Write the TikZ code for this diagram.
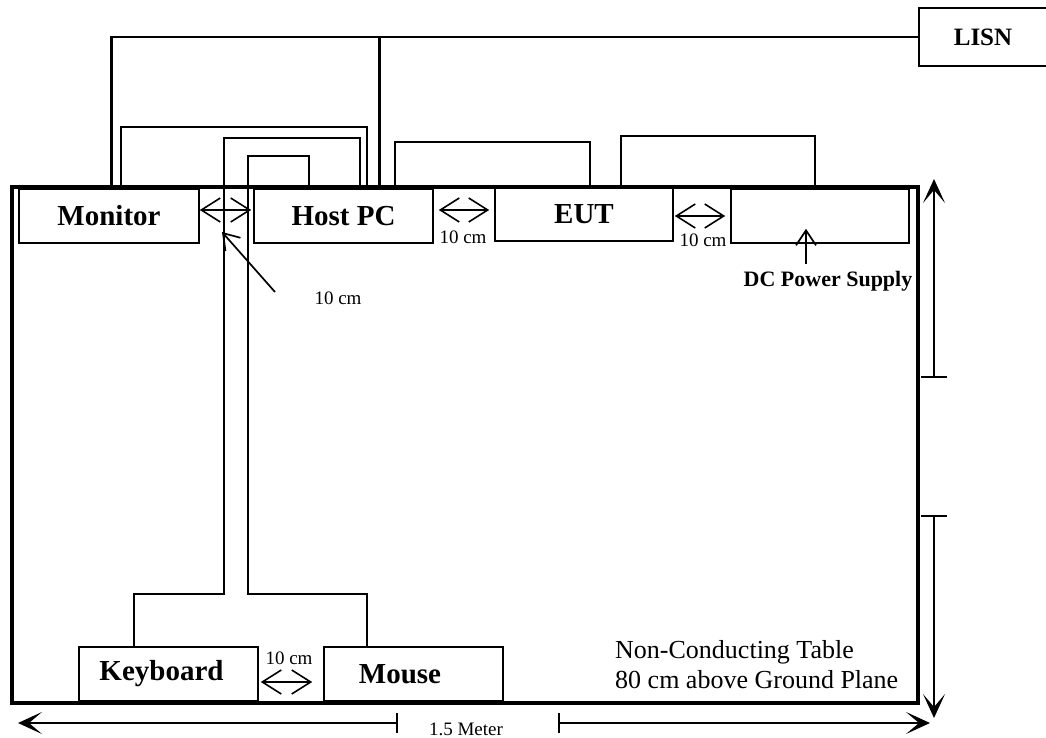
\documentclass[tikz,border=0pt]{standalone}
\usepackage{fontspec}
\setmainfont{Liberation Serif}
\usetikzlibrary{arrows.meta,calc}
\begin{document}
\begin{tikzpicture}[x=1pt,y=-1pt,
  box/.style={draw,line width=1.6pt,rectangle,minimum width=#1,minimum height=54pt,inner sep=0pt,font=\fontsize{29}{34}\selectfont\bfseries},
  cable/.style={line width=1.5pt},
  power/.style={line width=2.6pt},
  gap/.style={line width=1.3pt,{Straight Barb[length=19pt,width=24pt,line width=1.6pt]}-{Straight Barb[length=19pt,width=24pt,line width=1.6pt]}},
  ptr/.style={line width=1.7pt,-{Straight Barb[length=15pt,width=20pt,line width=1.7pt]}},
  dim/.style={line width=1.4pt,-{Stealth[length=24pt,width=22pt,inset=13pt]}},
  tick/.style={line width=1.6pt},
  lbl/.style={font=\fontsize{19}{22}\selectfont,inner sep=0pt},
  note/.style={font=\fontsize{26}{30}\selectfont,inner sep=0pt,anchor=base west},
  blbl/.style={font=\fontsize{22}{26}\selectfont\bfseries,inner sep=0pt}
]
\useasboundingbox (0,0) rectangle (1046,738);
% table
\node[draw,line width=3.2pt,minimum width=906pt,minimum height=516pt,inner sep=0pt] (table) at (465,445) {};
% boxes
\node[box=180pt] (monitor) at (109,216) {Monitor};
\node[box=179pt] (hostpc) at (343.5,216) {Host PC};
\node[box=178pt,minimum height=53pt] (eut) at (584,214.5) {EUT};
\node[box=178pt] (dc) at (820,216) {};
\node[box=140pt,minimum height=58pt,font=\fontsize{25}{30}\selectfont\bfseries] (lisn) at (989,37) {LISN\hspace*{12pt}};
\node[box=179pt] (keyboard) at (168.5,674) {Keyboard\hspace*{14pt}};
\node[box=179pt] (mouse) at (413.5,674) {Mouse\hspace*{27pt}};
% power wires from LISN
\draw[power] (lisn.west) -| ($(monitor.north west)+(93,0)$);
\draw[power] ($(hostpc.north west)+(126,0)$) coordinate (hpp) -- (hpp |- lisn.west);
% cables
\draw[cable] ($(monitor.north west)+(103,0)$) -- ++(0,-61) -| ($(hostpc.north west)+(114,0)$);
\draw[cable] ($(keyboard.north west)+(56,0)$) -- ++(0,-52) -| (224,138) -| ($(hostpc.north west)+(107,0)$);
\draw[cable] ($(mouse.north west)+(44,0)$) -- ++(0,-52) -| (248,156) -| ($(hostpc.north west)+(56,0)$);
\draw[cable] ($(hostpc.north west)+(142,0)$) |- (500,142) -| ($(eut.north west)+(96,0)$);
\draw[cable] ($(eut.north west)+(127,0)$) |- (700,136) -| ($(dc.north west)+(85,0)$);
% spacing arrows
\draw[gap] ($(monitor.east)+(0,-6)$) -- ($(hostpc.west)+(-2,-6)$);
\draw[gap] ($(hostpc.east)+(5,-6)$) -- ($(eut.west)+(-5,-4.5)$);
\node[lbl] (g2) at (463,237) {10 cm};
\draw[gap] ($(eut.east)+(1,1.5)$) -- ($(dc.west)+(-5,0)$);
\node[lbl] (g3) at (703,240) {10 cm};
\draw[gap] ($(keyboard.east)+(2,8)$) -- ($(mouse.west)+(-11,8)$);
\node[lbl] (g4) at (289,658) {10 cm};
% pointer to monitor/host gap
\node[lbl] (g1) at (338,298) {10 cm};
\coordinate (p1) at (275,292);
\coordinate (p1t) at (222,232);
\draw[ptr] (p1) -- (p1t);
% DC power supply label
\node[blbl] (dclabel) at (828,281) {DC Power Supply};
\coordinate (dcp) at (806,264);
\draw[ptr] (dcp) -- ($(dcp |- dc.south)+(0,-15)$);
% right dimension
\coordinate (vt) at (934,179);
\coordinate (vb) at (934,718);
\coordinate (v1) at (934,377);
\coordinate (v2) at (934,516);
\draw[dim] (v1) -- (vt);
\draw[tick] ($(v1)+(-13,0)$) -- ($(v1)+(13,0)$);
\draw[dim] (v2) -- (vb);
\draw[tick] ($(v2)+(-13,0)$) -- ($(v2)+(13,0)$);
% bottom dimension
\coordinate (h1) at (397,723);
\coordinate (h2) at (559,723);
\coordinate (hl) at (18,723);
\coordinate (hr) at (930,723);
\draw[dim] (h1) -- (hl);
\draw[tick] ($(h1)+(0,-10)$) -- ($(h1)+(0,10)$);
\draw[dim] (h2) -- (hr);
\draw[tick] ($(h2)+(0,-10)$) -- ($(h2)+(0,10)$);
\node[lbl] (meter) at (466,729) {1.5 Meter};
% note
\node[note] (n1) at (615,658) {Non-Conducting Table};
\node[note] (n2) at (615,688) {80 cm above Ground Plane};
\end{tikzpicture}
\end{document}
